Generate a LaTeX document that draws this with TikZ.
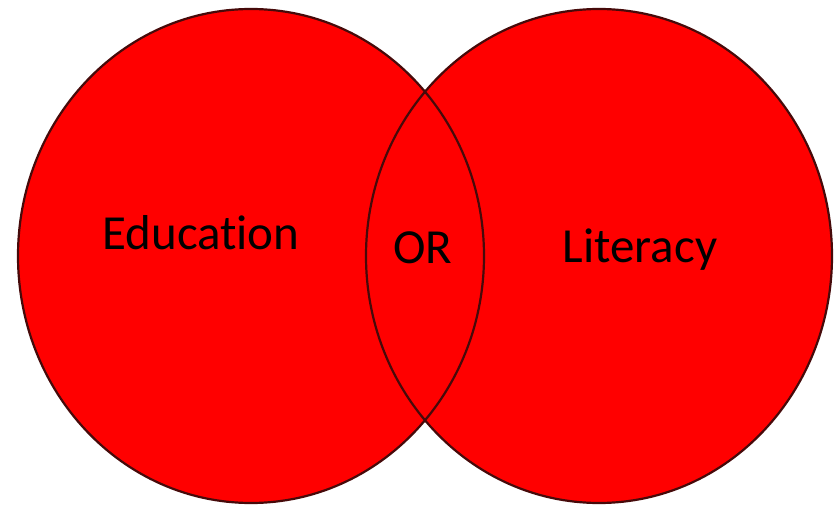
\documentclass[tikz,border=0pt]{standalone}
\usepackage{fontspec}
\setmainfont[Ligatures={NoCommon}]{Carlito}
\definecolor{setred}{RGB}{255,0,0}
\definecolor{rimred}{RGB}{70,10,10}
\tikzset{
  setfill/.style = {fill = setred},
  setrim/.style = {draw = rimred, line width = 2.2pt},
  setlabel/.style = {font = \fontsize{49}{52}\selectfont, text = black, anchor = base, inner sep = 0pt}
}
\begin{document}
\begin{tikzpicture}[x = 1pt, y = -1pt]
    \useasboundingbox (0,0) rectangle (839,508);
    \def \rx {233} % horizontal half axis
    \def \ry {247} % vertical half axis
    \coordinate (edu) at (251,256);
    \coordinate (lit) at (599,256);
    % fills first, then both rims on top
    \foreach \c in {edu, lit} {
        \fill [setfill] (\c) ellipse ({\rx} and {\ry});
    }
    \foreach \c in {edu, lit} {
        \draw [setrim] (\c) ellipse ({\rx} and {\ry});
    }
    \node [setlabel] (education) at (201,250) {Education};
    \node [setlabel] (or) at (423,263) {OR};
    \node [setlabel] (literacy) at (640,262) {Literacy};
\end{tikzpicture}
\end{document}
